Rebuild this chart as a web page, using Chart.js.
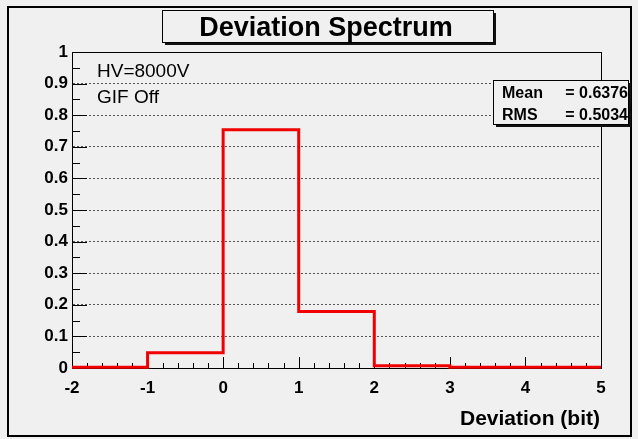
<!DOCTYPE html>
<html>
<head>
<meta charset="utf-8">
<script src="https://cdn.jsdelivr.net/npm/chart.js@4.4.1/dist/chart.umd.min.js"></script>
<style>
  html, body { margin: 0; padding: 0; background: #f0f0f0; }
  canvas { display: block; }
</style>
</head>
<body>
<canvas id="spectrum" width="638" height="439"></canvas>
<script>
// bin edges and contents of the deviation histogram
let binEdges = [-2, -1, 0, 1, 2, 3, 4, 5];
let binValues = [0.002, 0.048, 0.754, 0.179, 0.007, 0.002, 0.002];
let notes = ["HV=8000V", "GIF Off"];
let statNames = ["Mean", "RMS"];
let statValues = ["0.6376", "0.5034"];
let titleText = "Deviation Spectrum";
let xTitle = "Deviation (bit)";

// step line: each lower edge with its bin content, then the last upper edge
let points = [];
for (let i = 0; i < binValues.length; i++) {
  points.push({x: binEdges[i], y: binValues[i]});
}
points.push({x: binEdges[binEdges.length - 1], y: binValues[binValues.length - 1]});

const FONT = "'Liberation Sans', Arial, Helvetica, sans-serif";

function box(ctx, x1, y1, x2, y2) {
  ctx.fillStyle = "#111";
  ctx.fillRect(x1 + 3, y1 + 3, x2 - x1, y2 - y1);
  ctx.fillStyle = "#f0f0f0";
  ctx.fillRect(x1, y1, x2 - x1, y2 - y1);
  ctx.strokeStyle = "#000";
  ctx.lineWidth = 1;
  ctx.strokeRect(x1 + 0.5, y1 + 0.5, x2 - x1, y2 - y1);
  ctx.fillStyle = "#000";
}

const rootStyle = {
  id: "rootStyle",
  beforeDraw(chart) {
    const ctx = chart.ctx;
    ctx.save();
    ctx.fillStyle = "#f0f0f0";
    ctx.fillRect(0, 0, chart.width, chart.height);
    ctx.restore();
  },
  beforeDatasetsDraw(chart) {
    const ctx = chart.ctx;
    const a = chart.chartArea;
    const xs = chart.scales.x, ys = chart.scales.y;
    ctx.save();
    ctx.strokeStyle = "#000";
    ctx.lineWidth = 1;
    ctx.beginPath();
    // x ticks, pointing up into the frame
    for (let i = 0; i <= 35; i++) {
      const v = -2 + i * 0.2;
      const px = Math.round(xs.getPixelForValue(v)) + 0.5;
      const len = (i % 5 === 0) ? 11 : 5;
      ctx.moveTo(px, a.bottom);
      ctx.lineTo(px, a.bottom - len);
    }
    // y ticks, pointing right
    for (let i = 0; i <= 20; i++) {
      const v = i * 0.05;
      const py = Math.round(ys.getPixelForValue(v)) + 0.5;
      const len = (i % 2 === 0) ? 15 : 8;
      ctx.moveTo(a.left, py);
      ctx.lineTo(a.left + len, py);
    }
    ctx.stroke();
    ctx.strokeRect(Math.round(a.left) + 0.5, Math.round(a.top) + 0.5,
      Math.round(a.right - a.left), Math.round(a.bottom - a.top));
    ctx.restore();
  },
  afterDraw(chart) {
    const ctx = chart.ctx;
    ctx.save();
    // outer frame
    ctx.strokeStyle = "#000";
    ctx.lineWidth = 2;
    ctx.strokeRect(8, 7, 623, 429);

    // title box
    box(ctx, 162, 10, 493, 42);
    ctx.font = "bold 27px " + FONT;
    ctx.textAlign = "center";
    ctx.textBaseline = "alphabetic";
    ctx.fillText(titleText, 326, 36);

    // stats box
    box(ctx, 493, 80, 628, 124);
    ctx.font = "bold 16px " + FONT;
    for (let i = 0; i < statNames.length; i++) {
      const by = 98 + i * 22;
      ctx.textAlign = "left";
      ctx.fillText(statNames[i], 502, by);
      ctx.textAlign = "right";
      ctx.fillText("= " + statValues[i], 628, by);
    }

    // notes
    ctx.textAlign = "left";
    ctx.font = "19px " + FONT;
    for (let i = 0; i < notes.length; i++) {
      ctx.fillText(notes[i], 97, 77 + i * 26);
    }

    // x axis title
    ctx.font = "bold 21px " + FONT;
    ctx.textAlign = "right";
    ctx.fillText(xTitle, 600, 425);
    ctx.restore();
  }
};

new Chart(document.getElementById("spectrum"), {
  type: "line",
  data: {
    datasets: [{
      data: points,
      stepped: "before",
      borderColor: "#f00000",
      borderWidth: 3,
      pointRadius: 0,
      fill: false,
      clip: 6
    }]
  },
  options: {
    responsive: false,
    devicePixelRatio: 1,
    animation: false,
    layout: { padding: { top: 52, right: 37, left: 0, bottom: 0 } },
    plugins: {
      legend: { display: false },
      title: { display: false },
      tooltip: { enabled: false }
    },
    scales: {
      x: {
        type: "linear",
        min: -2,
        max: 5,
        afterFit: s => { s.height = 71; },
        ticks: {
          stepSize: 1,
          padding: 10,
          color: "#000",
          font: { family: FONT, size: 17, weight: "bold" }
        },
        grid: { display: false, drawTicks: false },
        border: { display: true, color: "#000", width: 1 }
      },
      y: {
        min: 0,
        max: 1,
        afterFit: s => { s.width = 72; },
        ticks: {
          stepSize: 0.1,
          padding: 4,
          color: "#000",
          font: { family: FONT, size: 17, weight: "bold" },
          callback: v => String(+v.toFixed(1))
        },
        grid: { color: "#555", lineWidth: 1, drawTicks: false },
        border: { display: true, color: "#000", width: 1, dash: [2, 2] }
      }
    }
  },
  plugins: [rootStyle]
});
</script>
</body>
</html>
